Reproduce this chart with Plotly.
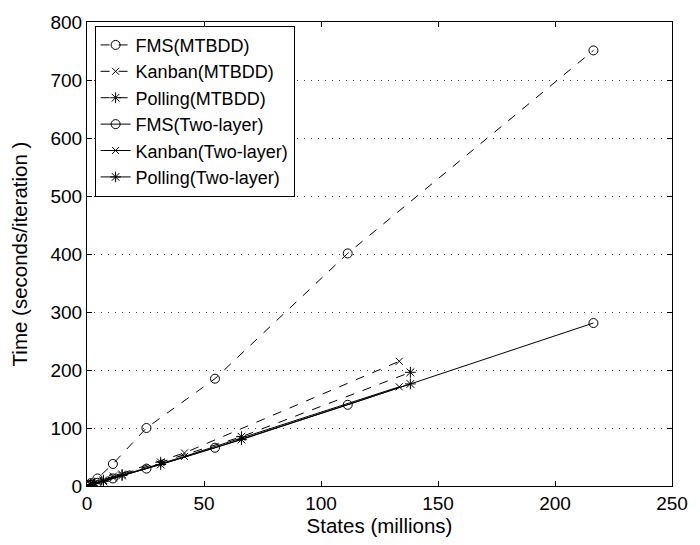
import plotly.graph_objects as go

# ---- data (millions of states, seconds/iteration) ----
fms_states = [0.152, 0.537, 1.639, 4.459, 11.058, 25.397, 54.682, 111.414, 216.427]
fms_mtbdd = [0.5, 2, 5, 13, 38, 100, 185, 401, 751]
fms_two = [0.2, 1, 2, 5.5, 13, 30, 66, 140, 281]

kanban_states = [0.455, 2.546, 11.261, 41.644, 133.437]
kanban_mtbdd = [1, 4, 17, 57, 215]
kanban_two = [0.7, 3.5, 14, 51, 171]

polling_states = [1.5, 3.3, 7.0, 15.0, 31.5, 66.0, 138.2]
polling_mtbdd = [2, 5, 10, 20, 41, 85, 196]
polling_two = [2, 4, 8, 18, 37, 80, 176]

x_ticks = [0, 50, 100, 150, 200, 250]
y_ticks = [0, 100, 200, 300, 400, 500, 600, 700, 800]

series = [
    ("FMS(MTBDD)", fms_states, fms_mtbdd, "dash", "circle-open", 9),
    ("Kanban(MTBDD)", kanban_states, kanban_mtbdd, "dash", "x-thin-open", 7),
    ("Polling(MTBDD)", polling_states, polling_mtbdd, "dash", "asterisk-open", 9),
    ("FMS(Two-layer)", fms_states, fms_two, "solid", "circle-open", 9),
    ("Kanban(Two-layer)", kanban_states, kanban_two, "solid", "x-thin-open", 7),
    ("Polling(Two-layer)", polling_states, polling_two, "solid", "asterisk-open", 9),
]

fig = go.Figure()
for name, xs, ys, dash, sym, sz in series:
    fig.add_trace(go.Scatter(
        x=xs, y=ys, name=name, mode="lines+markers",
        line=dict(color="black", width=1, dash=dash),
        marker=dict(symbol=sym, size=sz, color="black",
                    line=dict(color="black", width=1)),
    ))

font_family = "Liberation Sans, Arial, sans-serif"
fig.update_layout(
    width=700, height=545,
    margin=dict(l=87, r=18, t=20, b=56),
    paper_bgcolor="white", plot_bgcolor="white",
    font=dict(family=font_family, size=18, color="black"),
    showlegend=True,
    legend=dict(
        x=0.013, y=0.992, xanchor="left", yanchor="top",
        bgcolor="white", bordercolor="black", borderwidth=1,
        font=dict(size=18), tracegroupgap=0,
    ),
    xaxis=dict(
        range=[0, 250], tickvals=x_ticks,
        showgrid=False, zeroline=False,
        showline=True, linecolor="black", linewidth=1, mirror="ticks",
        ticks="inside", ticklen=5, tickcolor="black",
        title=dict(text="States (millions)", font=dict(size=20.5), standoff=5),
        tickfont=dict(size=19),
    ),
    yaxis=dict(
        range=[0, 800], tickvals=y_ticks,
        showgrid=True, gridcolor="#444444", griddash="1px,6px", gridwidth=1,
        zeroline=False,
        showline=True, linecolor="black", linewidth=1, mirror="ticks",
        ticks="inside", ticklen=5, tickcolor="black",
        title=dict(text="Time (seconds/iteration )", font=dict(size=20.5), standoff=17),
        tickfont=dict(size=19),
    ),
)

fig.write_html("out.html")
